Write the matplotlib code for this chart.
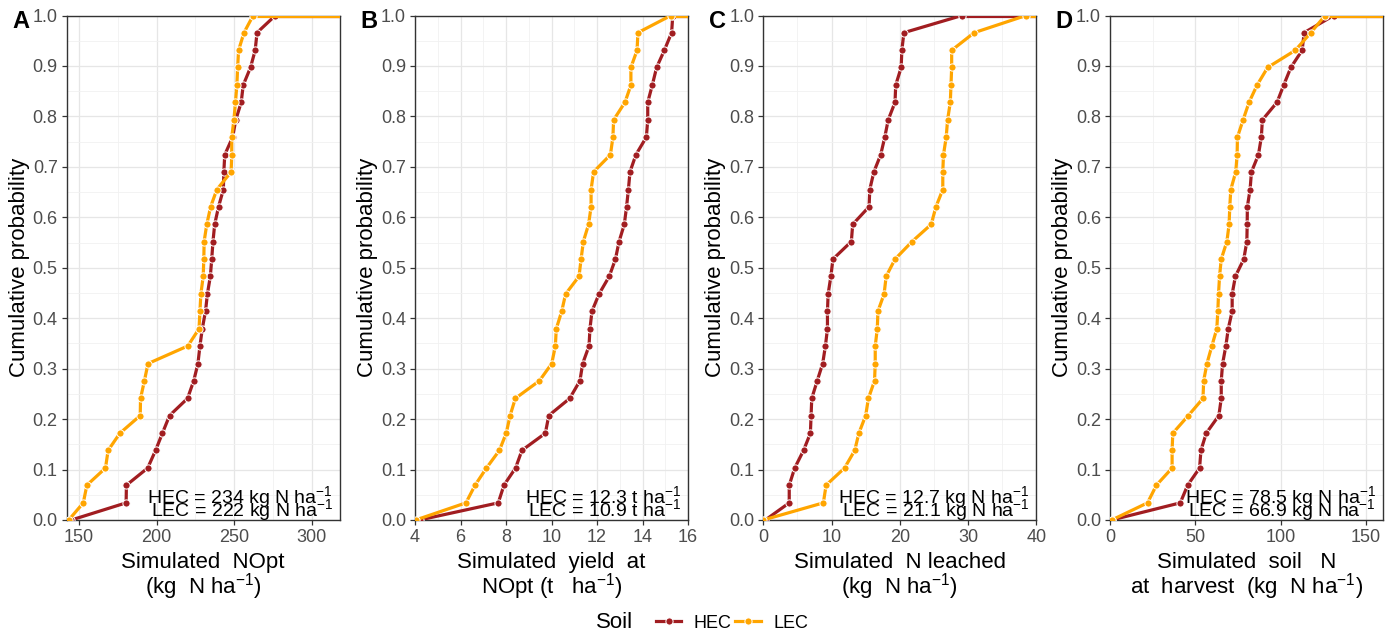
import numpy as np
import matplotlib
matplotlib.use("Agg")
import matplotlib.pyplot as plt
from matplotlib.lines import Line2D

plt.rcParams["font.family"] = ["Liberation Sans", "DejaVu Sans"]
plt.rcParams["mathtext.default"] = "regular"

# cumulative probability levels (same for every series)
PROB = [0.000, 0.034, 0.069, 0.103, 0.138, 0.172, 0.207, 0.241, 0.276, 0.310,
        0.345, 0.379, 0.414, 0.448, 0.483, 0.517, 0.552, 0.586, 0.621, 0.655,
        0.690, 0.724, 0.759, 0.793, 0.828, 0.862, 0.897, 0.931, 0.966, 1.000]

# A. simulated NOpt (kg N/ha)
nopt_hec = [145, 180.3, 180.5, 194.2, 199.3, 203.7, 208.3, 219.9, 223.9, 226.6,
            227.9, 229.4, 231.5, 232.7, 234.6, 235.5, 236.3, 237.4, 239.9, 243.0,
            243.3, 243.9, 249.0, 251.0, 254.5, 255.8, 260.5, 263.5, 264.7, 276.5]
nopt_lec = [143.3, 152.7, 155.0, 167.0, 168.7, 176.3, 189.4, 189.6, 192.1, 194.4,
            220.1, 227.3, 227.9, 228.5, 230.0, 230.4, 230.6, 232.3, 234.8, 238.8,
            248.0, 248.4, 248.4, 249.8, 250.8, 251.7, 252.2, 252.8, 256.3, 262.2]

# B. simulated yield at NOpt (t/ha)
yield_hec = [4.2, 7.66, 7.91, 8.42, 8.70, 9.73, 9.88, 10.8, 11.25, 11.37,
             11.65, 11.69, 11.78, 12.09, 12.54, 12.81, 12.97, 13.2, 13.3, 13.38,
             13.45, 13.71, 14.17, 14.23, 14.23, 14.43, 14.62, 14.96, 15.28, 15.33]
yield_lec = [4.03, 6.24, 6.64, 7.14, 7.71, 8.01, 8.18, 8.41, 9.47, 10.01,
             10.17, 10.21, 10.45, 10.62, 11.21, 11.3, 11.4, 11.63, 11.74, 11.74,
             11.85, 12.59, 12.7, 12.73, 13.23, 13.49, 13.49, 13.76, 13.8, 15.25]

# C. simulated N leached (kg N/ha)
leach_hec = [0.3, 3.8, 3.8, 4.6, 5.9, 6.9, 7.0, 7.1, 7.9, 8.7,
             9.1, 9.4, 9.4, 9.5, 9.9, 10.2, 12.9, 13.1, 15.5, 15.6,
             16.2, 17.2, 17.8, 18.3, 19.3, 19.4, 20.2, 20.3, 20.6, 29.1]
leach_lec = [0.0, 8.8, 9.2, 11.9, 13.4, 14.0, 15.0, 15.4, 16.3, 16.4,
             16.4, 16.7, 16.8, 17.7, 18.0, 19.3, 21.8, 24.6, 25.3, 26.3,
             26.3, 26.4, 26.8, 27.0, 27.4, 27.5, 27.6, 27.6, 30.9, 38.5]

# D. simulated soil N at harvest (kg N/ha)
soiln_hec = [1.0, 41.2, 45.5, 52.5, 53.3, 56.4, 63.8, 65.2, 65.2, 66.0,
             67.9, 69.3, 71.6, 71.6, 73.5, 78.4, 80.2, 80.4, 80.5, 82.1,
             82.9, 87.0, 88.7, 89.3, 97.9, 101.8, 106.0, 112.6, 113.8, 131.1]
soiln_lec = [1.0, 22.0, 27.2, 36.4, 36.4, 36.8, 45.9, 54.5, 54.9, 56.8,
             59.7, 62.6, 63.2, 63.6, 64.2, 65.2, 68.5, 69.8, 70.2, 70.8,
             73.7, 74.5, 74.7, 78.0, 81.5, 86.2, 92.4, 108.6, 117.7, 126.1]

LETTERS = ["A", "B", "C", "D"]
XLABELS = [
    "Simulated  NOpt\n(kg  N ha$^{-1}$)",
    "Simulated  yield  at\nNOpt (t   ha$^{-1}$)",
    "Simulated  N leached\n(kg  N ha$^{-1}$)",
    "Simulated  soil   N\nat  harvest  (kg  N ha$^{-1}$)",
]
HEC_LABELS = ["HEC = 234 kg N ha$^{-1}$", "HEC = 12.3 t ha$^{-1}$",
              "HEC = 12.7 kg N ha$^{-1}$", "HEC = 78.5 kg N ha$^{-1}$"]
LEC_LABELS = ["LEC = 222 kg N ha$^{-1}$", "LEC = 10.9 t ha$^{-1}$",
              "LEC = 21.1 kg N ha$^{-1}$", "LEC = 66.9 kg N ha$^{-1}$"]
XLIMS = [(142, 318), (4, 16), (0, 40), (0, 160)]
XTICKS = [[150, 200, 250, 300], [4, 6, 8, 10, 12, 14, 16],
          [0, 10, 20, 30, 40], [0, 50, 100, 150]]

SERIES = [(nopt_hec, nopt_lec), (yield_hec, yield_lec),
          (leach_hec, leach_lec), (soiln_hec, soiln_lec)]

HEC_COLOR = "#A11D21"
LEC_COLOR = "#FFA500"

W, H = 1395, 635
fig = plt.figure(figsize=(W / 100, H / 100), dpi=100)

lefts_px = [66.7, 415, 763.3, 1110]
width_px = 273
top_px, bottom_px = 15.5, 520

for i in range(4):
    ax = fig.add_axes([lefts_px[i] / W, 1 - bottom_px / H,
                       width_px / W, (bottom_px - top_px) / H])
    hec, lec = SERIES[i]
    x0, x1 = XLIMS[i]
    for xs, col in [(hec, HEC_COLOR), (lec, LEC_COLOR)]:
        ax.plot([xs[-1], x1], [PROB[-1], PROB[-1]], color=col, lw=2.3,
                solid_capstyle="butt", zorder=3)
        ax.plot(xs, PROB, color=col, lw=2.3, marker="o", markersize=5.2,
                markeredgecolor="white", markeredgewidth=0.7, zorder=3)

    xt = XTICKS[i]
    step = xt[1] - xt[0]
    ax.set_xticks(xt)
    ax.set_xticks([t + step / 2 for t in xt[:-1]] + [xt[0] - step / 2, xt[-1] + step / 2],
                  minor=True)
    yt = np.round(np.arange(0, 1.01, 0.1), 1)
    ax.set_yticks(yt)
    ax.set_yticklabels([f"{v:.1f}" for v in yt])
    ax.set_yticks(np.arange(0.05, 1.0, 0.1), minor=True)
    ax.set_xlim(x0, x1)
    ax.set_ylim(0, 1)

    ax.grid(which="major", color="#E6E6E6", lw=0.9, zorder=0)
    ax.grid(which="minor", color="#F1F1F1", lw=0.6, zorder=0)
    ax.set_axisbelow(True)
    for s in ax.spines.values():
        s.set_color("#333333")
        s.set_linewidth(1.0)
    ax.tick_params(which="major", length=3.5, width=0.9, color="#333333",
                   labelsize=13, labelcolor="#4D4D4D", pad=3)
    ax.tick_params(which="minor", length=0)

    ax.set_xlabel(XLABELS[i], fontsize=16, linespacing=0.95, labelpad=4)
    ax.set_ylabel("Cumulative probability", fontsize=16, labelpad=2)

    ax.text(0.975, 0.034, HEC_LABELS[i], transform=ax.transAxes, ha="right",
            va="baseline", fontsize=14, zorder=5)
    ax.text(0.975, 0.008, LEC_LABELS[i], transform=ax.transAxes, ha="right",
            va="baseline", fontsize=14, zorder=5)

    fig.text((lefts_px[i] - 46) / W, 1 - 22 / H, LETTERS[i], fontsize=17,
             fontweight="bold", ha="center", va="center")

# legend
handles = [Line2D([0], [0], color=c, lw=2.3, marker="o", markersize=5.2,
                  markeredgecolor="white", markeredgewidth=0.7)
           for c in (HEC_COLOR, LEC_COLOR)]
fig.text(615 / W, 1 - 623 / H, "Soil", fontsize=16, ha="center", va="center")
fig.legend(handles, ["HEC", "LEC"], loc="center", bbox_to_anchor=(732 / W, 1 - 623 / H),
           ncol=2, frameon=False, fontsize=13, handlelength=1.4,
           handletextpad=0.7, columnspacing=0.2, borderpad=0)

fig.savefig("out.png", dpi=100)
